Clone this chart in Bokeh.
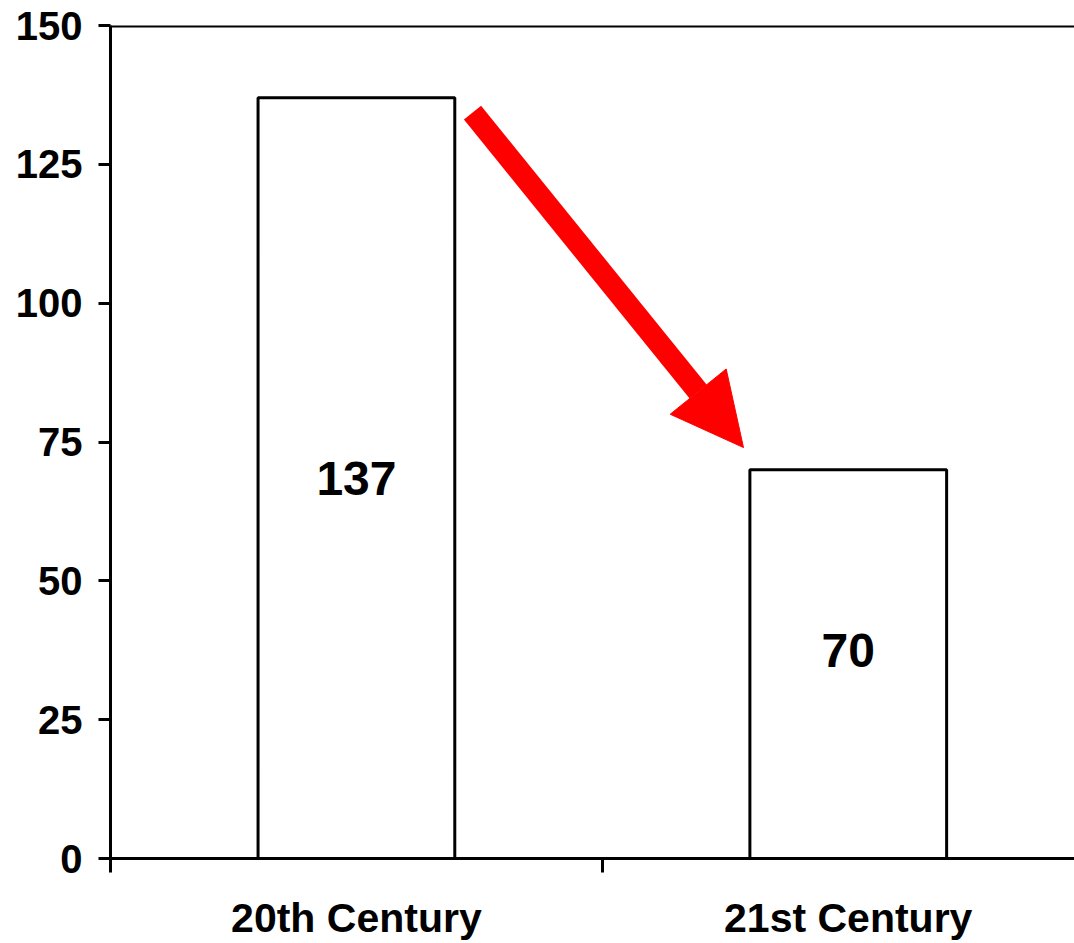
from bokeh.plotting import figure
from bokeh.models import (Range1d, LinearAxis, FixedTicker, Arrow, NormalHead,
                          Span, ColumnDataSource)
from bokeh.core.properties import value
from bokeh.embed import file_html
from bokeh.resources import INLINE

# ---- data ----
categories = ["20th Century", "21st Century"]
values = [137, 70]
y_ticks = [0, 25, 50, 75, 100, 125, 150]

# ---- layout constants ----
cat_pos = [0.5, 1.5]
label_y = [68.5, 37.5]
FONT = "Liberation Sans"

p = figure(width=1074, height=943, output_backend="svg", toolbar_location=None,
           x_range=Range1d(0, 1.96), y_range=Range1d(0, 150),
           x_axis_type=None, y_axis_type=None,
           min_border_left=110, min_border_top=25, min_border_bottom=85,
           min_border_right=0)
p.outline_line_color = None
p.xgrid.visible = False
p.ygrid.visible = False
p.background_fill_color = "white"
p.border_fill_color = "white"

src = ColumnDataSource(dict(x=cat_pos, top=values, label=[str(v) for v in values],
                            ly=label_y))
p.vbar(x="x", top="top", width=0.4, bottom=0, source=src,
       fill_color="white", line_color="black", line_width=3)
p.text(x="x", y="ly", text="label", source=src,
       text_font=value(FONT), text_font_style="bold", text_font_size="48px",
       text_align="center", text_baseline="middle", text_color="black")

# top line at 150
p.add_layout(Span(location=150, dimension="width", line_color="black", line_width=4))

# y axis
yax = LinearAxis(ticker=FixedTicker(ticks=y_ticks))
yax.axis_line_width = 3
yax.axis_line_color = "black"
yax.major_tick_line_width = 3
yax.major_tick_line_color = "black"
yax.major_tick_out = 12
yax.major_tick_in = 0
yax.minor_tick_line_color = None
yax.major_label_text_font = FONT
yax.major_label_text_font_style = "bold"
yax.major_label_text_font_size = "40px"
yax.major_label_text_color = "black"
yax.major_label_standoff = 16
p.add_layout(yax, "left")

# x axis: ticks at category boundaries (no labels)
xax = LinearAxis(ticker=FixedTicker(ticks=[0, 1, 2]))
xax.axis_line_width = 3
xax.axis_line_color = "black"
xax.major_tick_line_width = 3
xax.major_tick_line_color = "black"
xax.major_tick_out = 14
xax.major_tick_in = 0
xax.minor_tick_line_color = None
xax.major_label_overrides = {0: "", 1: "", 2: ""}
xax.major_label_text_font_size = "10px"
xax.major_label_standoff = 0
p.add_layout(xax, "below")

# category labels
xlab = LinearAxis(ticker=FixedTicker(ticks=cat_pos))
xlab.axis_line_color = None
xlab.major_tick_line_color = None
xlab.minor_tick_line_color = None
xlab.major_label_overrides = {cat_pos[i]: categories[i] for i in range(len(categories))}
xlab.major_label_text_font = FONT
xlab.major_label_text_font_style = "bold"
xlab.major_label_text_font_size = "41px"
xlab.major_label_text_color = "black"
xlab.major_label_standoff = 16
p.add_layout(xlab, "below")

# red arrow
p.add_layout(Arrow(x_start=0.736, y_start=134.3, x_end=1.287, y_end=74.0,
                   line_color="#ff0000", line_width=22,
                   end=NormalHead(size=72, fill_color="#ff0000", line_color="#ff0000",
                                  line_width=1)))

open("out.html", "w").write(file_html(p, INLINE))
